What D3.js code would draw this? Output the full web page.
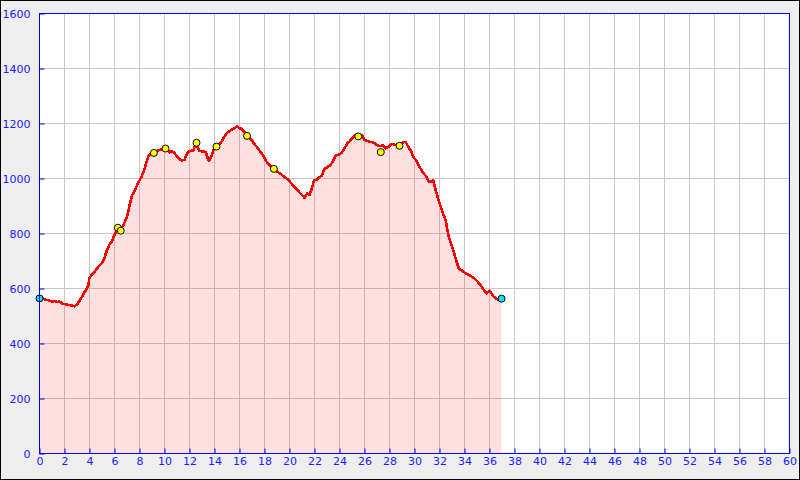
<!DOCTYPE html>
<html>
<head>
<meta charset="utf-8">
<script src="https://cdn.jsdelivr.net/npm/d3@7"></script>
<style>
  html, body { margin: 0; padding: 0; background: #eeeeee; }
  svg { display: block; }
  text { font-family: "DejaVu Sans", sans-serif; }
</style>
</head>
<body>
<svg id="chart" width="800" height="480"></svg>
<script>
// ---- data (distance km, elevation m) ----
const distKm = [0.0,0.2,0.4,0.6,0.8,1.0,1.2,1.4,1.6,1.8,2.0,2.2,2.4,2.6,2.8,3.0,3.2,3.4,3.6,3.7,3.9,4.0,4.2,4.4,4.6,4.8,5.0,5.2,5.4,5.6,5.8,6.0,6.1,6.27,6.5,6.7,7.0,7.2,7.4,7.6,7.8,8.0,8.2,8.4,8.6,8.75,8.9,9.15,9.4,9.7,10.0,10.2,10.4,10.6,10.8,11.0,11.2,11.4,11.6,11.8,12.0,12.3,12.5,12.6,12.8,13.1,13.3,13.45,13.55,13.7,13.85,14.0,14.2,14.5,14.7,14.9,15.1,15.3,15.6,15.8,16.0,16.2,16.4,16.6,16.8,17.0,17.2,17.4,17.6,17.8,18.0,18.2,18.4,18.75,19.0,19.3,19.6,19.8,20.0,20.2,20.4,20.6,20.9,21.1,21.2,21.4,21.6,21.8,21.95,22.2,22.4,22.6,22.8,23.0,23.3,23.5,23.7,24.0,24.2,24.4,24.6,24.8,25.0,25.2,25.5,25.8,26.0,26.3,26.6,26.8,27.0,27.2,27.5,27.7,27.9,28.2,28.5,28.8,29.1,29.3,29.5,29.7,29.95,30.1,30.3,30.5,30.75,30.9,31.15,31.4,31.5,31.7,31.9,32.1,32.3,32.5,32.6,32.75,32.95,33.15,33.35,33.55,33.8,34.0,34.2,34.5,34.7,34.9,35.1,35.3,35.5,35.75,36.0,36.2,36.35,36.6,36.8,36.96];
const elevM = [564,567,560,558,556,552,555,550,553,545,543,541,540,538,535,542,555,570,588,593,612,640,650,660,673,684,693,712,740,760,772,795,805,818,815,830,860,900,938,955,975,993,1010,1035,1065,1084,1090,1093,1100,1105,1108,1105,1095,1100,1093,1080,1070,1065,1068,1090,1100,1102,1125,1120,1100,1098,1096,1075,1065,1075,1095,1110,1118,1130,1145,1160,1170,1175,1183,1189,1183,1180,1168,1157,1148,1138,1125,1114,1102,1090,1075,1059,1048,1035,1025,1017,1005,999,990,980,968,960,944,935,930,945,940,965,993,995,1005,1011,1035,1040,1050,1065,1084,1088,1095,1110,1126,1135,1145,1155,1160,1158,1140,1135,1132,1128,1122,1118,1120,1110,1115,1126,1122,1125,1132,1133,1115,1102,1075,1068,1050,1035,1017,1010,989,990,993,956,925,896,870,847,820,787,760,732,700,672,665,658,653,645,640,632,622,612,598,583,592,580,569,562,558,563];

// waypoints (yellow) and start/end (cyan)
const waypointKm = [6.27, 6.5, 9.15, 10.08, 12.56, 14.16, 16.6, 18.75, 25.5, 27.3, 28.8];
const waypointM  = [821, 810, 1093, 1109, 1130, 1116, 1155, 1035, 1153, 1096, 1119];
const endpointKm = [0, 36.96];
const endpointM  = [564, 563];

// axes ticks
const xTicks = d3.range(0, 61, 2);
const yTicks = [0, 200, 400, 600, 800, 1000, 1200, 1400, 1600];

// ---- drawing ----
const svg = d3.select("#chart");
const W = 800, H = 480;
const L = 39.5, R = 789.5, T = 13.5, B = 453.5;

svg.append("rect").attr("x", 0.5).attr("y", 0.5).attr("width", W - 1).attr("height", H - 1)
  .attr("fill", "#eeeeee").attr("stroke", "#000").attr("stroke-width", 1);

const x = d3.scaleLinear().domain([0, 60]).range([L, R]);
const y = d3.scaleLinear().domain([0, 1600]).range([B, T]);

svg.append("rect").attr("x", L).attr("y", T).attr("width", R - L).attr("height", B - T).attr("fill", "#fff");

// grid
const grid = svg.append("g").attr("stroke", "#c8c8c8").attr("stroke-width", 1);
grid.selectAll("line.v").data(xTicks.slice(1, -1)).join("line")
  .attr("x1", d => x(d)).attr("x2", d => x(d)).attr("y1", T).attr("y2", B);
grid.selectAll("line.h").data(yTicks.slice(1, -1)).join("line")
  .attr("y1", d => y(d)).attr("y2", d => y(d)).attr("x1", L).attr("x2", R);

const pts = distKm.map((d, i) => [d, elevM[i]]);

// area
svg.append("path").datum(pts)
  .attr("d", d3.area().x(d => x(d[0])).y0(y(0)).y1(d => y(d[1])))
  .attr("fill", "rgba(255,0,0,0.12)");

// line
svg.append("path").datum(pts)
  .attr("d", d3.line().x(d => x(d[0])).y(d => y(d[1])))
  .attr("fill", "none").attr("stroke", "#ff0000").attr("stroke-width", 2.6)
  .attr("stroke-linejoin", "round").attr("shape-rendering", "crispEdges");

// markers
svg.append("g").selectAll("circle").data(waypointKm.map((d, i) => [d, waypointM[i]])).join("circle")
  .attr("cx", d => x(d[0])).attr("cy", d => y(d[1])).attr("r", 3.5)
  .attr("fill", "#ffff00").attr("stroke", "#000").attr("stroke-width", 1);
svg.append("g").selectAll("circle").data(endpointKm.map((d, i) => [d, endpointM[i]])).join("circle")
  .attr("cx", d => x(d[0])).attr("cy", d => y(d[1])).attr("r", 3.5)
  .attr("fill", "#00e5ff").attr("stroke", "#000").attr("stroke-width", 1);

// axes
const xAxis = svg.append("g").attr("transform", `translate(0,${B})`)
  .call(d3.axisBottom(x).tickValues(xTicks).tickFormat(d3.format("d")).tickSizeInner(-5).tickSizeOuter(0).tickPadding(4));
const yAxis = svg.append("g").attr("transform", `translate(${L},0)`)
  .call(d3.axisLeft(y).tickValues(yTicks).tickFormat(d3.format("d")).tickSizeInner(-5).tickSizeOuter(0).tickPadding(9));
[xAxis, yAxis].forEach(g => {
  g.select(".domain").remove();
  g.selectAll(".tick line").attr("stroke", "#0000ff");
  g.selectAll(".tick text").attr("fill", "#1a1aff").style("font-size", "11px")
    .style("font-family", "DejaVu Sans, sans-serif");
});

// frame
svg.append("rect").attr("x", L).attr("y", T).attr("width", R - L).attr("height", B - T)
  .attr("fill", "none").attr("stroke", "#0000ff").attr("stroke-width", 1);
</script>
</body>
</html>
